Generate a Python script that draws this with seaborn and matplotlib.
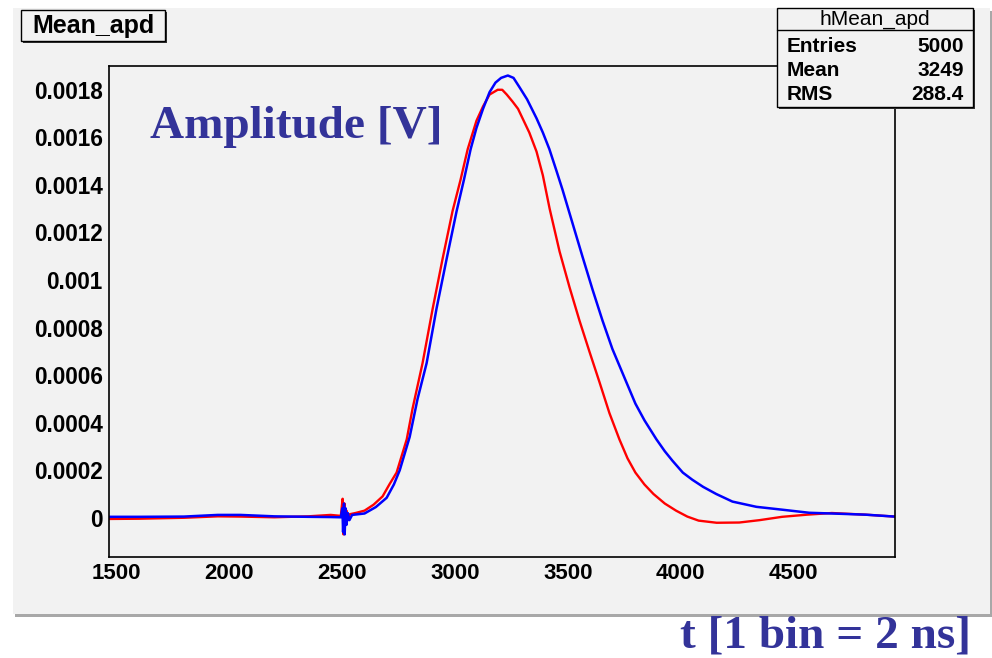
import matplotlib
matplotlib.use("Agg")
import matplotlib.pyplot as plt
from matplotlib.patches import Rectangle
from matplotlib.ticker import FixedLocator, FixedFormatter, MultipleLocator
import numpy as np
import pandas as pd
import seaborn as sns

# ---------------- data ----------------
red_t = [1470, 1600, 1800, 1950, 2050, 2200, 2350, 2450, 2495,
         2503, 2507, 2511, 2515, 2520, 2526, 2535, 2560, 2600, 2640,
         2680, 2710, 2742, 2787, 2813, 2857, 2902, 2946, 2990, 3025,
         3057, 3096, 3125, 3154, 3172, 3190, 3210, 3230, 3256, 3280,
         3300, 3330, 3362, 3390, 3420, 3464, 3508, 3552, 3596, 3641,
         3685, 3729, 3765, 3800, 3840, 3880, 3930, 3980, 4030, 4080, 4160,
         4260, 4350, 4450, 4560, 4670, 4820, 4948]
red_v = [-0.000005, -0.000004, 0.0, 0.000006, 0.000005, 0.000002, 0.000006, 0.000012, 0.000008,
         0.00008, -0.00007, 0.00006, -0.00003, 0.00003, -0.00001, 0.000015, 0.00002, 0.00003, 0.000055,
         0.00009, 0.00014, 0.00019, 0.00033, 0.00046, 0.00065, 0.00088, 0.00109, 0.00129, 0.00142,
         0.00155, 0.00167, 0.00173, 0.00178, 0.00179, 0.0018, 0.0018, 0.00178, 0.00175, 0.00172,
         0.00168, 0.00162, 0.00154, 0.00144, 0.0013, 0.00112, 0.00097, 0.00083, 0.0007, 0.00057,
         0.00044, 0.00033, 0.00025, 0.00019, 0.00014, 0.0001, 0.00006, 0.00003, 0.000005, -0.000012, -0.000021,
         -0.00002, -0.00001, 0.000004, 0.000013, 0.00002, 0.000013, 0.000005]

blue_t = [1470, 1600, 1800, 1950, 2050, 2200, 2350, 2450, 2495,
          2502, 2505, 2509, 2512, 2516, 2520, 2526, 2533, 2545, 2600,
          2650, 2698, 2730, 2756, 2800, 2835, 2875, 2919, 2964, 3008,
          3040, 3070, 3096, 3125, 3154, 3180, 3205, 3235, 3260, 3287,
          3320, 3362, 3390, 3419, 3450, 3477, 3521, 3565, 3610, 3654,
          3698, 3760, 3800, 3840, 3893, 3930, 3964, 4010, 4052, 4100,
          4158, 4230, 4336, 4450, 4570, 4700, 4820, 4948]
blue_v = [0.000004, 0.000004, 0.000005, 0.000012, 0.000012, 0.000006, 0.000004, 0.000003, 0.000002,
          0.00004, -0.00006, 0.00006, -0.00007, 0.00004, -0.00003, 0.00002, -0.00001, 0.000012, 0.000018,
          0.000045, 0.000084, 0.00014, 0.0002, 0.00034, 0.0005, 0.00065, 0.00088, 0.00109, 0.00129,
          0.00142, 0.00155, 0.00164, 0.00172, 0.00179, 0.00183, 0.00185, 0.00186, 0.00185, 0.00181,
          0.00176, 0.00168, 0.00162, 0.00155, 0.00146, 0.00138, 0.00124, 0.0011, 0.00096, 0.00083,
          0.00071, 0.00057, 0.00048, 0.00041, 0.00033, 0.00028, 0.00024, 0.00019, 0.00016, 0.00013,
          0.0001, 0.000068, 0.000046, 0.000034, 0.000021, 0.000017, 0.000013, 0.000005]

x_ticks = [1500, 2000, 2500, 3000, 3500, 4000, 4500]
x_labels = ["1500", "2000", "2500", "3000", "3500", "4000", "4500"]
y_ticks = [0, 0.0002, 0.0004, 0.0006, 0.0008, 0.001, 0.0012, 0.0014, 0.0016, 0.0018]
y_labels = ["0", "0.0002", "0.0004", "0.0006", "0.0008", "0.001", "0.0012", "0.0014", "0.0016", "0.0018"]

stats_names = ["Entries", "Mean", "RMS"]
stats_values = ["5000", "3249", "288.4"]

# ---------------- figure ----------------
sns.set_style("white")
plt.rcParams['font.family'] = ['Liberation Sans', 'DejaVu Sans']
plt.rcParams['text.color'] = 'black'
plt.rcParams['xtick.color'] = 'black'
plt.rcParams['ytick.color'] = 'black'
plt.rcParams['axes.labelcolor'] = 'black'

W, H = 992, 658
fig = plt.figure(figsize=(W / 100, H / 100), dpi=100, facecolor="white")

def fx(x):
    return x / W

def fy(y):
    return 1 - y / H

CANVAS = "#f2f2f2"
# canvas shadow + canvas
fig.patches.append(Rectangle((fx(15), fy(617)), fx(977), 606 / H, transform=fig.transFigure,
                             facecolor="#a8a8a8", edgecolor="none", zorder=-3))
fig.patches.append(Rectangle((fx(13), fy(614)), fx(977), 606 / H, transform=fig.transFigure,
                             facecolor=CANVAS, edgecolor="none", zorder=-2))

ax = fig.add_axes([fx(109), fy(557), fx(895 - 109), (557 - 66) / H])
ax.set_zorder(1)
ax.set_facecolor(CANVAS)

df_red = pd.DataFrame({"t": red_t, "v": red_v})
df_blue = pd.DataFrame({"t": blue_t, "v": blue_v})
sns.lineplot(data=df_red, x="t", y="v", ax=ax, color="#ff0000", linewidth=1.7,
             estimator=None, sort=False)
sns.lineplot(data=df_blue, x="t", y="v", ax=ax, color="#0000ff", linewidth=1.8,
             estimator=None, sort=False)

ax.set_xlim(1468, 4950)
ax.set_ylim(-0.000165, 0.0019)
ax.set_xlabel("")
ax.set_ylabel("")

ax.xaxis.set_major_locator(FixedLocator(x_ticks))
ax.xaxis.set_major_formatter(FixedFormatter(x_labels))
ax.xaxis.set_minor_locator(MultipleLocator(100))
ax.yaxis.set_major_locator(FixedLocator(y_ticks))
ax.yaxis.set_major_formatter(FixedFormatter(y_labels))
ax.yaxis.set_minor_locator(MultipleLocator(0.00005))

ax.tick_params(axis="x", which="major", direction="in", length=10.5, width=1.1,
               pad=4, labelsize=16, colors="black")
ax.tick_params(axis="x", which="minor", direction="in", length=5.2, width=1.1)
ax.tick_params(axis="y", which="major", direction="in", length=17, width=1.1,
               pad=4.5, labelsize=16.3, colors="black")
ax.tick_params(axis="y", which="minor", direction="in", length=8.5, width=1.1)
for lab in ax.get_xticklabels() + ax.get_yticklabels():
    lab.set_fontweight("bold")
for s in ax.spines.values():
    s.set_visible(True)
    s.set_color("black")
    s.set_linewidth(1.2)

# "Amplitude [V]"
fig.text(fx(150), fy(138), "Amplitude [V]", family="Liberation Serif", fontweight="bold",
         fontsize=34, color="#333399", ha="left", va="baseline", zorder=8)

# x axis title below canvas
fig.text(fx(971), fy(647), "t [1 bin = 2 ns]", family="Liberation Serif", fontweight="bold",
         fontsize=34, color="#333399", ha="right", va="baseline", zorder=8)

# title box
fig.patches.append(Rectangle((fx(23), fy(43)), fx(144), 31 / H, transform=fig.transFigure,
                             facecolor="#333333", edgecolor="none", zorder=5))
fig.patches.append(Rectangle((fx(21), fy(41)), fx(144), 31 / H, transform=fig.transFigure,
                             facecolor=CANVAS, edgecolor="black", linewidth=1.0, zorder=6))
fig.text(fx(93), fy(25.5), "Mean_apd", fontsize=18, fontweight="bold", ha="center", va="center",
         zorder=7)

# stats box
fig.patches.append(Rectangle((fx(779), fy(109)), fx(196), 99 / H, transform=fig.transFigure,
                             facecolor="#333333", edgecolor="none", zorder=5))
fig.patches.append(Rectangle((fx(777), fy(107)), fx(196), 99 / H, transform=fig.transFigure,
                             facecolor=CANVAS, edgecolor="black", linewidth=1.0, zorder=6))
fig.lines.append(plt.Line2D([fx(777), fx(973)], [fy(29.5), fy(29.5)], transform=fig.transFigure,
                            color="black", linewidth=1.0, zorder=7))
fig.text(fx(875), fy(19), "hMean_apd", fontsize=15, ha="center", va="center", zorder=7)
row_y = [46, 70, 94]
for name, val, yy in zip(stats_names, stats_values, row_y):
    fig.text(fx(787), fy(yy), name, fontsize=15, fontweight="bold", ha="left", va="center", zorder=7)
    fig.text(fx(964), fy(yy), val, fontsize=15, fontweight="bold", ha="right", va="center", zorder=7)

fig.savefig("out.png", dpi=100, facecolor="white")
